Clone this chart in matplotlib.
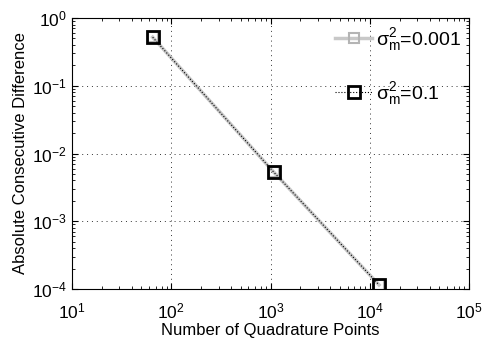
import matplotlib
matplotlib.use('Agg')
import matplotlib.pyplot as plt

plt.rcParams['font.family'] = ['Liberation Sans', 'DejaVu Sans']
plt.rcParams['mathtext.fontset'] = 'custom'
plt.rcParams['mathtext.rm'] = 'Liberation Sans'
plt.rcParams['mathtext.it'] = 'Liberation Sans'

# data
points = [65, 1080, 12400]
diff_small = [0.52, 0.0053, 0.000115]   # sigma_m^2 = 0.001
diff_large = [0.52, 0.0053, 0.000115]   # sigma_m^2 = 0.1

fig = plt.figure(figsize=(4.83, 3.45), dpi=100)
ax = fig.add_axes([72 / 483, 1 - 289 / 345, 397 / 483, 271 / 345])

ax.loglog(points, diff_small, '-', color='#c8c8c8', lw=2.5, marker='s', ms=7,
          mfc='none', mec='#b4b4b4', mew=1.5, label=r'$\sigma_m^2$=0.001')
ax.loglog(points, diff_large, ':', color='black', lw=0.8, marker='s', ms=9,
          mfc='none', mec='black', mew=2, label=r'$\sigma_m^2$=0.1')

ax.set_xlim(10, 1e5)
ax.set_ylim(1e-4, 1)
ax.grid(True, which='major', linestyle=(0, (1, 4)), color='#333333', lw=0.7)
ax.tick_params(which='both', direction='in', top=True, right=True, labelsize=12.5)
ax.tick_params(which='major', length=4)
ax.tick_params(which='minor', length=2)
ax.tick_params(axis='x', which='major', pad=9)
ax.set_xlabel('Number of Quadrature Points', fontsize=12, labelpad=1)
ax.set_ylabel('Absolute Consecutive Difference', fontsize=12, labelpad=3)
ax.legend(loc='upper right', frameon=False, fontsize=14, handlelength=1.9,
          handletextpad=0.2, borderaxespad=0.0, labelspacing=1.4)

fig.savefig('out.png', dpi=100)
